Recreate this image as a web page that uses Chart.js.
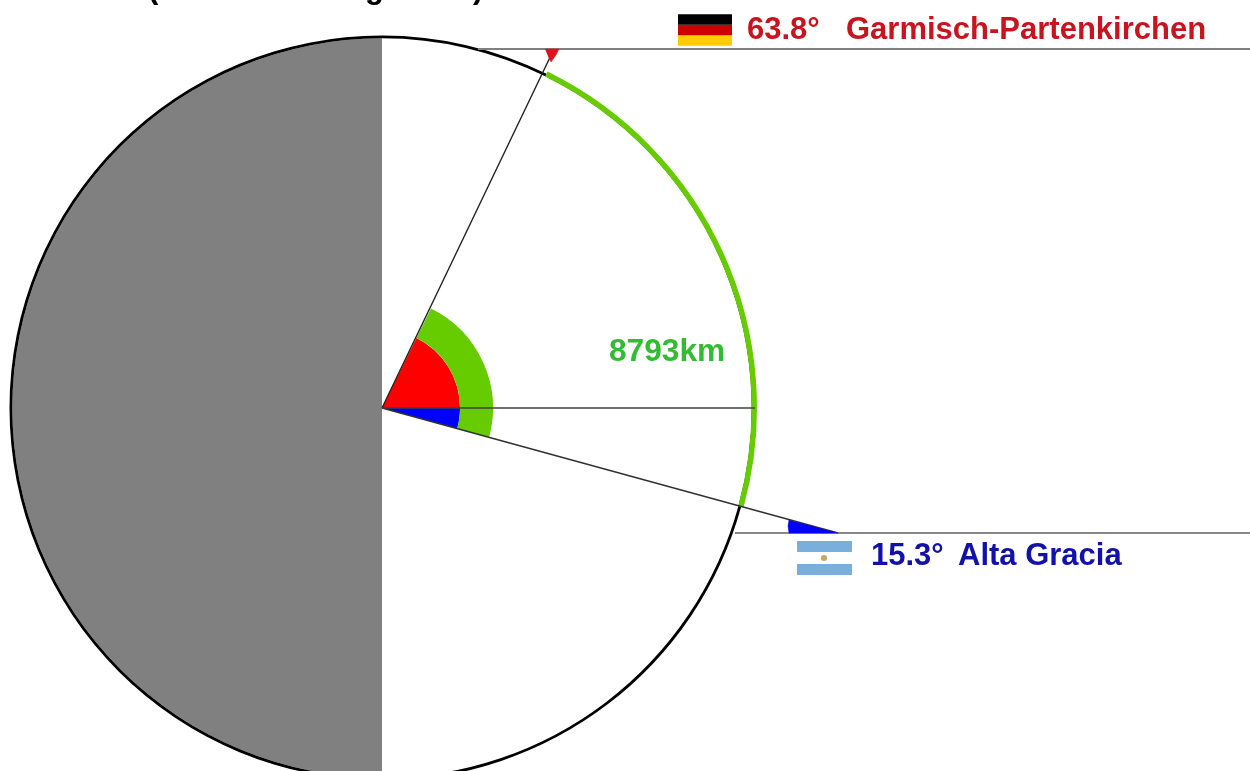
<!DOCTYPE html>
<html>
<head>
<meta charset="utf-8">
<script src="https://cdn.jsdelivr.net/npm/chart.js@4"></script>
<style>
html,body{margin:0;padding:0;background:#fff;overflow:hidden;width:1250px;height:771px}
#wrap{position:relative;width:1250px;height:771px;overflow:hidden;background:#fff}
canvas{position:absolute;left:0;top:0}
</style>
</head>
<body>
<div id="wrap">
<canvas id="base" width="764" height="816" style="width:764px;height:816px"></canvas>
<canvas id="sectors" width="764" height="816" style="width:764px;height:816px"></canvas>
<canvas id="overlay" width="1250" height="771" style="width:1250px;height:771px"></canvas>
</div>
<script>
// Latitudes (degrees) and the arc distance shown
const latitudeNorth = 63.8;
const latitudeSouth = 15.3;
const arcLabel = "8793km";

// Sweep of each sector, clockwise from the north pole
const sweepNorthCap = [26.2];
const sweepArc = [79.1];
const sweepSouthCap = [74.7];
const sweepHalf = [180];

// Ring thickness
const ringOutline = 2.8, ringFill = 369.7;
const ringRim = 5.5, ringGap = 258.5, ringBand = 33, ringCore = 78;

const clear = "rgba(0,0,0,0)";
const green = "#66cc00", grey = "#808080", red = "#ff0000", blue = "#0000ff";

// Overlay lines, in picture units
const spokeNorthX = [382, 554], spokeNorthY = [408, 49];
const spokeEquatorX = [382, 755], spokeEquatorY = [408, 408];
const spokeSouthX = [382, 838], spokeSouthY = [408, 533];
const parallelNorthX = [478, 1250], parallelNorthY = [49, 49];
const parallelSouthX = [735, 1250], parallelSouthY = [533, 533];
const wedgeNorthX = [545, 559, 556, 551, 548], wedgeNorthY = [49, 49, 55, 62, 56];
const wedgeSouthX = [838, 789, 788, 789], wedgeSouthY = [533, 533, 526, 520];

// Flags: stripe colour and centre row
const flagGermanyX = [678, 732];
const flagGermanyRows = [19.5, 30, 40.5];
const flagGermanyColors = ["#000000", "#cc0000", "#ffcc00"];
const flagArgentinaX = [797, 852];
const flagArgentinaRows = [546.5, 569.5];
const flagSun = [[824, 558]];

// Text
const labelTexts = ["63.8°", "Garmisch-Partenkirchen", arcLabel, "15.3°", "Alta Gracia"];
const labelX = [747, 846, 609, 871, 958];
const labelY = [39, 39, 361, 565, 565];
const labelSizes = [31, 31, 31.7, 31, 31];
const labelColors = ["#c8141e", "#c8141e", "#33bb33", "#1212aa", "#1212aa"];
const clippedTitle = ["(", "g", ")"];
const clippedTitleX = [148, 365, 473];

const zip = (xs, ys) => xs.map((x, i) => ({x, y: ys[i]}));

const pieOptions = (pad) => ({
  responsive: false,
  animation: false,
  layout: {autoPadding: false, padding: {left: pad, right: pad, top: pad, bottom: pad}},
  plugins: {legend: {display: false}, tooltip: {enabled: false}},
  elements: {arc: {borderWidth: 0}}
});

new Chart(document.getElementById("base"), {
  type: "pie",
  data: {
    labels: ["north cap", "arc", "south cap", "far side"],
    datasets: [
      {weight: ringOutline, data: [...sweepNorthCap, ...sweepArc, ...sweepSouthCap, ...sweepHalf],
       backgroundColor: ["#000", "#000", "#000", "#000"]},
      {weight: ringFill, data: [...sweepNorthCap, ...sweepArc, ...sweepSouthCap, ...sweepHalf],
       backgroundColor: ["#fff", "#fff", "#fff", grey]}
    ]
  },
  options: pieOptions(9.5)
});

new Chart(document.getElementById("sectors"), {
  type: "pie",
  data: {
    labels: ["north cap", "arc", "south", "rest", "far side"],
    datasets: [
      {weight: ringRim, data: [...sweepNorthCap, ...sweepArc, ...sweepSouthCap, ...sweepHalf],
       backgroundColor: [clear, green, clear, clear]},
      {weight: ringGap, data: [...sweepNorthCap, ...sweepArc, ...sweepSouthCap, ...sweepHalf],
       backgroundColor: [clear, clear, clear, clear]},
      {weight: ringBand, data: [...sweepNorthCap, ...sweepArc, ...sweepSouthCap, ...sweepHalf],
       backgroundColor: [clear, green, clear, clear]},
      {weight: ringCore, data: [...sweepNorthCap, latitudeNorth, latitudeSouth, ...sweepSouthCap, ...sweepHalf],
       backgroundColor: [clear, red, blue, clear, clear]}
    ]
  },
  options: pieOptions(7)
});

const line = (xs, ys, color, width) => ({
  data: zip(xs, ys), showLine: true, borderColor: color, borderWidth: width,
  pointRadius: 0, borderCapStyle: "butt", tension: 0, fill: false
});
const wedge = (xs, ys, color) => ({
  data: zip(xs, ys), showLine: true, borderColor: color, borderWidth: 0.5,
  backgroundColor: color, fill: "shape", pointRadius: 0, tension: 0
});

const overlayDatasets = [
  wedge(wedgeNorthX, wedgeNorthY, "#e01020"),
  wedge(wedgeSouthX, wedgeSouthY, blue),
  line(parallelNorthX, parallelNorthY, "#808080", 2),
  line(parallelSouthX, parallelSouthY, "#606060", 1.6),
  line(spokeEquatorX, spokeEquatorY, "#404040", 1.5),
  line(spokeNorthX, spokeNorthY, "#202020", 1.4),
  line(spokeSouthX, spokeSouthY, "#303030", 1.4)
];
flagGermanyRows.forEach((r, i) => overlayDatasets.push(
  line(flagGermanyX, [r, r], flagGermanyColors[i], 10.6)));
flagArgentinaRows.forEach(r => overlayDatasets.push(
  line(flagArgentinaX, [r, r], "#7aaedc", 11)));
overlayDatasets.push({
  data: flagSun.map(p => ({x: p[0], y: p[1]})),
  pointRadius: 3, pointBackgroundColor: "#c8a860", pointBorderWidth: 0
});

const textPlugin = {
  id: "pictureText",
  afterDatasetsDraw(chart) {
    const {ctx, scales: {x, y}} = chart;
    ctx.save();
    ctx.textBaseline = "alphabetic";
    ctx.textAlign = "left";
    labelTexts.forEach((t, i) => {
      ctx.font = 'bold ' + labelSizes[i] + 'px "Liberation Sans", Arial, sans-serif';
      ctx.fillStyle = labelColors[i];
      ctx.fillText(t, x.getPixelForValue(labelX[i]), y.getPixelForValue(labelY[i]));
    });
    ctx.font = 'bold 31px "Liberation Sans", Arial, sans-serif';
    ctx.fillStyle = "#000";
    clippedTitle.forEach((t, i) => {
      ctx.fillText(t, x.getPixelForValue(clippedTitleX[i]), -2);
    });
    ctx.restore();
  }
};

new Chart(document.getElementById("overlay"), {
  type: "scatter",
  data: {datasets: overlayDatasets},
  options: {
    responsive: false,
    animation: false,
    layout: {autoPadding: false, padding: 0},
    plugins: {legend: {display: false}, tooltip: {enabled: false}},
    scales: {
      x: {type: "linear", min: 0, max: 1250, display: false},
      y: {type: "linear", min: 0, max: 771, reverse: true, display: false}
    }
  },
  plugins: [textPlugin]
});
</script>
</body>
</html>
